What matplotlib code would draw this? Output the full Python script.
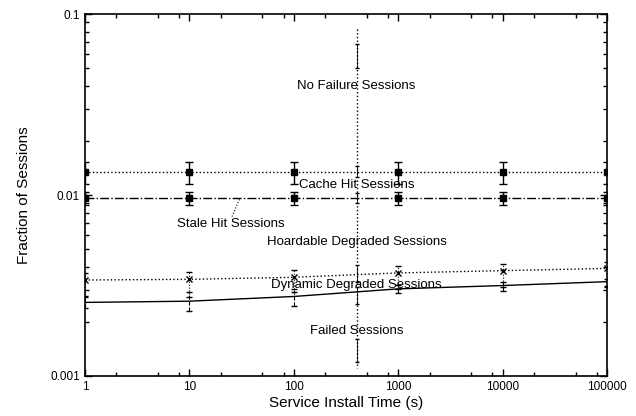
import numpy as np
import matplotlib
matplotlib.use("Agg")
import matplotlib.pyplot as plt
from matplotlib.ticker import LogLocator, NullFormatter, FixedLocator, FixedFormatter

plt.rcParams['font.family'] = ['Liberation Sans', 'DejaVu Sans']

# install times (s)
install_time = [1, 10, 100, 1000, 10000, 100000]

# fraction of sessions per series, with error bar low/high
cache_hit = [0.0134, 0.0134, 0.0134, 0.0134, 0.0134, 0.0134]
cache_lo = [0.0115, 0.0115, 0.0115, 0.0115, 0.0115, 0.0115]
cache_hi = [0.0153, 0.0153, 0.0153, 0.0153, 0.0153, 0.0153]

stale_hit = [0.0096, 0.0096, 0.0096, 0.0096, 0.0096, 0.0096]
stale_lo = [0.0088, 0.0088, 0.0088, 0.0088, 0.0088, 0.0088]
stale_hi = [0.0104, 0.0104, 0.0104, 0.0104, 0.0104, 0.0104]

dyn_degraded = [0.00339, 0.00342, 0.00351, 0.00371, 0.00382, 0.00393]
dyn_lo = [0.00275, 0.00272, 0.00292, 0.00301, 0.00310, 0.00314]
dyn_hi = [0.00372, 0.00377, 0.00385, 0.00406, 0.00417, 0.00427]

failed = [0.00255, 0.00259, 0.00275, 0.00303, 0.00316, 0.00332]
failed_lo = [0.00236, 0.00230, 0.00245, 0.00286, 0.00294, 0.00310]
failed_hi = [0.00272, 0.00290, 0.00303, 0.00318, 0.00330, 0.00345]

# odd vertical series at ~400 s
vert_x = 400
vert_span = [0.083, 0.0011]
vert_y = [0.060, 0.0134, 0.0096, 0.0037, 0.0028, 0.0014]
vert_lo = [0.050, 0.0125, 0.0090, 0.0033, 0.0025, 0.0012]
vert_hi = [0.068, 0.0145, 0.0102, 0.0041, 0.0031, 0.0016]

labels = ["No Failure Sessions", "Cache Hit Sessions", "Stale Hit Sessions",
          "Hoardable Degraded Sessions", "Dynamic Degraded Sessions", "Failed Sessions"]
label_x = [400, 400, 25, 400, 400, 400]
label_y = [0.0400, 0.01135, 0.0069, 0.0055, 0.00318, 0.00178]

fig = plt.figure(figsize=(6.36, 4.16), dpi=100)
ax = fig.add_axes([0.1336, 0.0962, 0.8208, 0.8701])
ax.set_xscale('log')
ax.set_yscale('log')

def err(y, lo, hi):
    y = np.array(y); return [y - np.array(lo), np.array(hi) - y]

e = ax.errorbar(install_time, cache_hit, yerr=err(cache_hit, cache_lo, cache_hi),
                color='black', ls=':', lw=1, marker='s', ms=5, capsize=3, elinewidth=1)
e = ax.errorbar(install_time, stale_hit, yerr=err(stale_hit, stale_lo, stale_hi),
                color='black', ls='-.', lw=1, marker='s', ms=4, capsize=3, elinewidth=1)
e = ax.errorbar(install_time, dyn_degraded, yerr=err(dyn_degraded, dyn_lo, dyn_hi),
                color='black', ls=':', lw=1, marker='x', ms=4, capsize=2, elinewidth=0.8)
e[2][0].set_linestyle(':')
e = ax.errorbar(install_time, failed, yerr=err(failed, failed_lo, failed_hi),
                color='black', ls='-', lw=1, marker='', capsize=2, elinewidth=0.8)
e[2][0].set_linestyle('--')

ax.plot([vert_x, vert_x], vert_span, color='black', ls=':', lw=1)
ax.errorbar([vert_x] * len(vert_y), vert_y, yerr=err(vert_y, vert_lo, vert_hi),
            color='black', ls='none', capsize=1.5, elinewidth=0.6)

for t, x, y in zip(labels, label_x, label_y):
    ax.text(x, y, t, ha='center', va='center', fontsize=9.5)
# pointer from the stale hit label to its line
ax.plot([25.6, 30.5], [0.0076, 0.0096], color='black', ls=':', lw=0.8)

ax.set_xlim(1, 100000)
ax.set_ylim(0.001, 0.1)
ax.xaxis.set_major_locator(FixedLocator(install_time))
ax.xaxis.set_major_formatter(FixedFormatter([str(v) for v in install_time]))
ax.xaxis.set_minor_locator(LogLocator(base=10, subs=(2, 5, 8)))
ax.xaxis.set_minor_formatter(NullFormatter())
ax.yaxis.set_major_locator(FixedLocator([0.001, 0.01, 0.1]))
ax.yaxis.set_major_formatter(FixedFormatter(['0.001', '0.01', '0.1']))
ax.yaxis.set_minor_locator(LogLocator(base=10, subs=(2, 3, 4, 5, 6, 7, 8, 9)))
ax.yaxis.set_minor_formatter(NullFormatter())
ax.tick_params(which='both', direction='in', top=True, right=True, labelsize=8.5, width=1)
ax.tick_params(which='major', length=5)
ax.tick_params(which='minor', length=3)
for s in ax.spines.values():
    s.set_linewidth(1.2)

ax.set_xlabel("Service Install Time (s)", fontsize=11, labelpad=2)
ax.set_ylabel("Fraction of Sessions", fontsize=11, labelpad=14)

fig.savefig("out.png", dpi=100)
